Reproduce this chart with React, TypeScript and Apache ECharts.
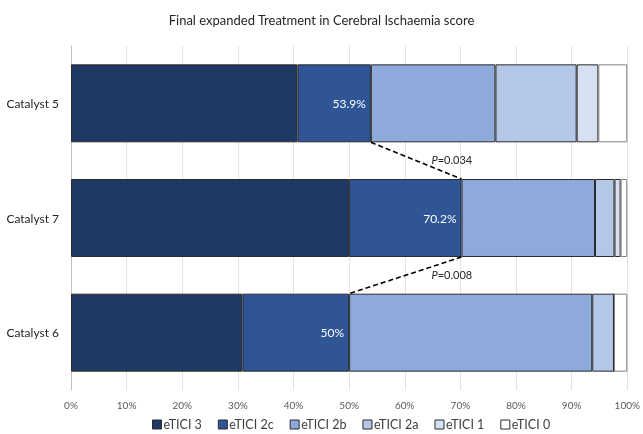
import React, { useEffect, useRef } from "react";
import * as echarts from "echarts";

const categories = ["Catalyst 5", "Catalyst 7", "Catalyst 6"];
const seriesNames = ["eTICI 3", "eTICI 2c", "eTICI 2b", "eTICI 2a", "eTICI 1", "eTICI 0"];
const eTICI3 = [40.7, 50.0, 30.8];
const eTICI2c = [13.2, 20.2, 19.2];
const eTICI2b = [22.4, 24.0, 43.7];
const eTICI2a = [14.6, 3.5, 3.9];
const eTICI1 = [3.9, 1.1, 0];
const eTICI0 = [5.2, 1.2, 2.4];
const xTicks = [0, 10, 20, 30, 40, 50, 60, 70, 80, 90, 100];
// comparisons: [fromValue, fromCategoryIndex, toValue, toCategoryIndex, pValue]
const comparisons: [number, number, number, number, string][] = [
  [53.9, 0, 70.2, 1, "0.034"],
  [70.2, 1, 50.0, 2, "0.008"],
];

const colors = ["#1f3864", "#2f5597", "#8eaadb", "#b4c7e7", "#d6e0f2", "#ffffff"];
const FONT = "Lato, 'Liberation Sans', sans-serif";
const BAR_RATIO = 0.68;

export default function App() {
  const ref = useRef<HTMLDivElement>(null);
  useEffect(() => {
    if (!ref.current) return;
    const chart = echarts.init(ref.current, undefined, { renderer: "svg" });
    const all = [eTICI3, eTICI2c, eTICI2b, eTICI2a, eTICI1, eTICI0];
    const barSeries = all.map((vals, i) => ({
      name: seriesNames[i],
      type: "bar",
      stack: "total",
      barWidth: `${BAR_RATIO * 100}%`,
      data: vals,
      itemStyle: {
        color: colors[i],
        borderColor: i === 5 ? "#7f7f7f" : "#2b2b2b",
        borderWidth: 1,
      },
      label:
        i === 1
          ? {
              show: true,
              position: "insideRight",
              distance: 5,
              color: "#ffffff",
              fontSize: 12,
              fontFamily: FONT,
              formatter: (p: any) => {
                const s = eTICI3[p.dataIndex] + eTICI2c[p.dataIndex];
                return (Math.round(s * 10) / 10).toFixed(1).replace(/\.0$/, "") + "%";
              },
            }
          : { show: false },
      emphasis: { disabled: true },
    }));

    chart.setOption({
      animation: false,
      title: {
        text: "Final expanded Treatment in Cerebral Ischaemia score",
        left: "center",
        top: 8,
        textStyle: { fontSize: 13, fontWeight: "normal", color: "#262626", fontFamily: FONT },
      },
      legend: {
        data: seriesNames,
        bottom: 1,
        left: 147,
        padding: [2, 5, 2, 5],
        icon: "rect",
        itemWidth: 9,
        itemHeight: 9,
        itemGap: 16,
        textStyle: { fontSize: 12.5, color: "#404040", fontFamily: FONT, padding: [0, 0, 0, -3] },
        itemStyle: { borderColor: "#2b2b2b", borderWidth: 1 },
      },
      grid: { left: 71, right: 12, top: 46, bottom: 44 },
      xAxis: {
        type: "value",
        min: 0,
        max: 100,
        interval: 10,
        axisLine: { show: false },
        axisTick: { show: false },
        axisLabel: {
          formatter: (v: number) => (xTicks.includes(v) ? `${v}%` : ""),
          color: "#595959",
          fontSize: 10,
          fontFamily: FONT,
          margin: 10,
        },
        splitLine: { show: true, lineStyle: { color: "#e3e3e3" } },
      },
      yAxis: {
        type: "category",
        data: categories,
        inverse: true,
        axisLine: { show: true, lineStyle: { color: "#bfbfbf" } },
        axisTick: { show: false },
        axisLabel: { color: "#262626", fontSize: 12, fontFamily: FONT, margin: 12 },
      },
      series: [
        ...barSeries,
        {
          type: "custom",
          name: "comparison",
          silent: true,
          z: 10,
          data: comparisons,
          renderItem: (params: any, api: any) => {
            const x1 = api.value(0);
            const c1 = api.value(1);
            const x2 = api.value(2);
            const c2 = api.value(3);
            const idx = params.dataIndex;
            const half = (api.size([0, 1])[1] * BAR_RATIO) / 2;
            const p1 = api.coord([x1, c1]);
            const p2 = api.coord([x2, c2]);
            const dir = c2 > c1 ? 1 : -1;
            const a = [p1[0], p1[1] + dir * half];
            const b = [p2[0], p2[1] - dir * half];
            const my = (a[1] + b[1]) / 2;
            return {
              type: "group",
              children: [
                {
                  type: "line",
                  shape: { x1: a[0], y1: a[1], x2: b[0], y2: b[1] },
                  style: { stroke: "#000000", lineWidth: 1.6, lineDash: [5, 3] },
                },
                {
                  type: "text",
                  x: Math.max(a[0], b[0]) - 30,
                  y: my - 1,
                  style: {
                    text: `{i|P}=${comparisons[idx][4]}`,
                    fill: "#262626",
                    fontSize: 11,
                    fontFamily: FONT,
                    verticalAlign: "middle",
                    align: "left",
                    rich: { i: { fontStyle: "italic", fontSize: 11, fontFamily: FONT, fill: "#262626" } },
                  },
                },
              ],
            };
          },
        },
      ],
    });
    return () => chart.dispose();
  }, []);
  return (
    <div
      ref={ref}
      style={{ position: "fixed", left: 0, top: 0, width: 643, height: 434 }}
    />
  );
}
